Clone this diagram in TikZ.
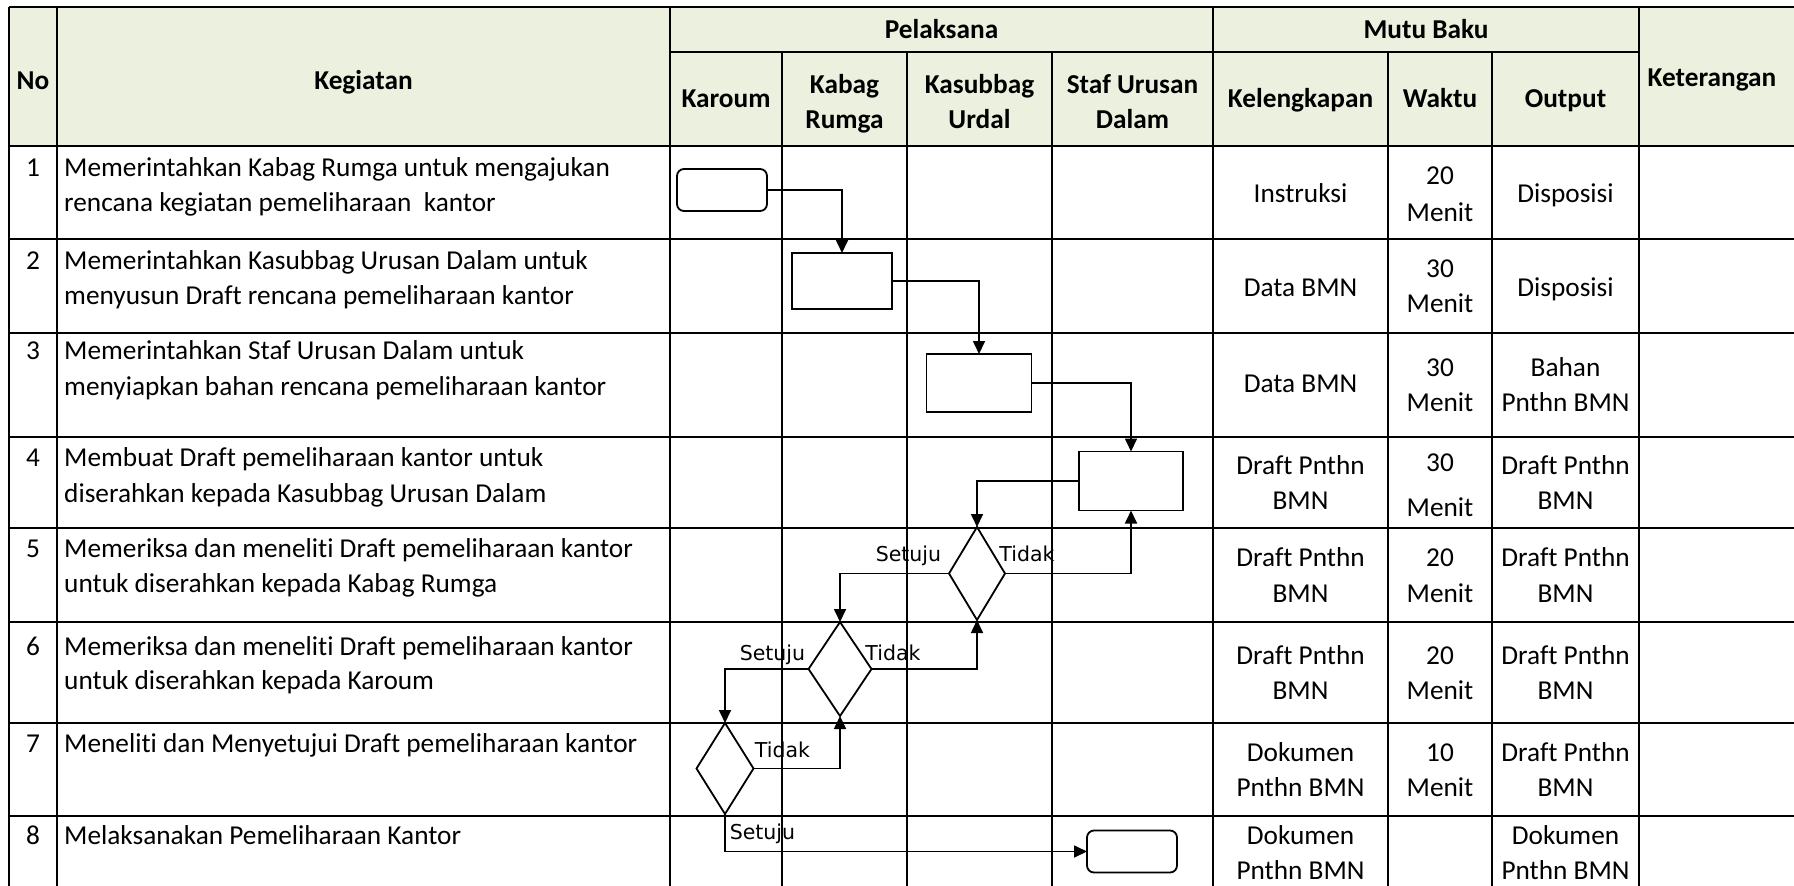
\documentclass[tikz,border=0pt]{standalone}
\usepackage{fontspec}
\setmainfont{Carlito}[Ligatures=NoCommon]
\newfontfamily\lblfont{DejaVu Sans}
\usetikzlibrary{arrows.meta,shapes.geometric}
\definecolor{hdrfill}{HTML}{EBF1DE}
\tikzset{
  gridline/.style={line width=2.8pt},
  body/.style={inner sep=0pt, font=\fontsize{27.3}{35}\selectfont},
  tl/.style={body, anchor=base west},
  tc/.style={body, anchor=base},
  th/.style={inner sep=0pt, anchor=base, font=\fontsize{27.3}{35}\selectfont\bfseries},
  lbl/.style={inner sep=0pt, anchor=base, font=\lblfont\fontsize{20.5}{24}\selectfont},
  proc/.style={draw, rectangle, line width=1.8pt, fill=white, inner sep=0pt, outer sep=0pt},
  term/.style={proc, rounded corners=7pt, minimum width=90pt, minimum height=42pt},
  dec/.style={draw, diamond, line width=1.8pt, fill=white, inner sep=0pt, outer sep=0pt},
  flow/.style={line width=1.7pt, -{Triangle[length=13pt,width=12pt]}},
}
\begin{document}
\begin{tikzpicture}[x=1pt,y=-1pt]
\useasboundingbox (0,0) rectangle (1794,886);
\fill[white] (0,0) rectangle (1794,886);
% header background
\fill[hdrfill] (9,7) rectangle (1794,146);
% grid
\draw[gridline] (9,7) -- (1794,7);
\draw[gridline] (670,52) -- (1639,52);
\foreach \yy in {146,239,333,437,528,622,723,816}
  \draw[gridline] (9,\yy) -- (1794,\yy);
\foreach \xx in {9,57,670,1213,1639}
  \draw[gridline] (\xx,7) -- (\xx,886);
\foreach \xx in {782,907,1052,1388,1492}
  \draw[gridline] (\xx,52) -- (\xx,886);

% header texts
\node[th] (hNo) at (33,89) {No};
\node[th] (hKeg) at (363.5,89) {Kegiatan};
\node[th] (hPel) at (941.5,38) {Pelaksana};
\node[th] (hMutu) at (1426,38) {Mutu Baku};
\node[th] (hKet) at (1712,86) {Keterangan};
\node[th] (hKar) at (726,107) {Karoum};
\node[th] (hKab1) at (844.5,93) {Kabag};
\node[th] (hKab2) at (844.5,128) {Rumga};
\node[th] (hKas1) at (979.5,93) {Kasubbag};
\node[th] (hKas2) at (979.5,128) {Urdal};
\node[th] (hSta1) at (1132.5,93) {Staf Urusan};
\node[th] (hSta2) at (1132.5,128) {Dalam};
\node[th] (hKel) at (1300.5,107) {Kelengkapan};
\node[th] (hWak) at (1440,107) {Waktu};
\node[th] (hOut) at (1565.5,107) {Output};

% numbers
\node[tc] (n1) at (33,176) {1};
\node[tc] (n2) at (33,269) {2};
\node[tc] (n3) at (33,359) {3};
\node[tc] (n4) at (33,466) {4};
\node[tc] (n5) at (33,557) {5};
\node[tc] (n6) at (33,655) {6};
\node[tc] (n7) at (33,752) {7};
\node[tc] (n8) at (33,844) {8};

% kegiatan
\node[tl] (k1a) at (64,176) {Memerintahkan Kabag Rumga untuk mengajukan};
\node[tl] (k1b) at (64,211) {rencana kegiatan pemeliharaan\ \ kantor};
\node[tl] (k2a) at (64,269) {Memerintahkan Kasubbag Urusan Dalam untuk};
\node[tl] (k2b) at (64,304) {menyusun Draft rencana pemeliharaan kantor};
\node[tl] (k3a) at (64,359) {Memerintahkan Staf Urusan Dalam untuk};
\node[tl] (k3b) at (64,395) {menyiapkan bahan rencana pemeliharaan kantor};
\node[tl] (k4a) at (64,466) {Membuat Draft pemeliharaan kantor untuk};
\node[tl] (k4b) at (64,502) {diserahkan kepada Kasubbag Urusan Dalam};
\node[tl] (k5a) at (64,557) {Memeriksa dan meneliti Draft pemeliharaan kantor};
\node[tl] (k5b) at (64,592) {untuk diserahkan kepada Kabag Rumga};
\node[tl] (k6a) at (64,655) {Memeriksa dan meneliti Draft pemeliharaan kantor};
\node[tl] (k6b) at (64,689) {untuk diserahkan kepada Karoum};
\node[tl] (k7a) at (64,752) {Meneliti dan Menyetujui Draft pemeliharaan kantor};
\node[tl] (k8a) at (64,844) {Melaksanakan Pemeliharaan Kantor};

% mutu baku
\node[tc] (c1k) at (1300.5,202) {Instruksi};
\node[tc] (c1w1) at (1440,184) {20};
\node[tc] (c1w2) at (1440,221) {Menit};
\node[tc] (c1o) at (1565.5,202) {Disposisi};

\node[tc] (c2k) at (1300.5,296) {Data BMN};
\node[tc] (c2w1) at (1440,277) {30};
\node[tc] (c2w2) at (1440,312) {Menit};
\node[tc] (c2o) at (1565.5,296) {Disposisi};

\node[tc] (c3k) at (1300.5,392) {Data BMN};
\node[tc] (c3w1) at (1440,376) {30};
\node[tc] (c3w2) at (1440,411) {Menit};
\node[tc] (c3o1) at (1565.5,376) {Bahan};
\node[tc] (c3o2) at (1565.5,411) {Pnthn BMN};

\node[tc] (c4k1) at (1300.5,474) {Draft Pnthn};
\node[tc] (c4k2) at (1300.5,509) {BMN};
\node[tc] (c4w1) at (1440,471) {30};
\node[tc] (c4w2) at (1440,516) {Menit};
\node[tc] (c4o1) at (1565.5,474) {Draft Pnthn};
\node[tc] (c4o2) at (1565.5,509) {BMN};

\node[tc] (c5k1) at (1300.5,566) {Draft Pnthn};
\node[tc] (c5k2) at (1300.5,602) {BMN};
\node[tc] (c5w1) at (1440,566) {20};
\node[tc] (c5w2) at (1440,602) {Menit};
\node[tc] (c5o1) at (1565.5,566) {Draft Pnthn};
\node[tc] (c5o2) at (1565.5,602) {BMN};

\node[tc] (c6k1) at (1300.5,664) {Draft Pnthn};
\node[tc] (c6k2) at (1300.5,699) {BMN};
\node[tc] (c6w1) at (1440,664) {20};
\node[tc] (c6w2) at (1440,699) {Menit};
\node[tc] (c6o1) at (1565.5,664) {Draft Pnthn};
\node[tc] (c6o2) at (1565.5,699) {BMN};

\node[tc] (c7k1) at (1300.5,761) {Dokumen};
\node[tc] (c7k2) at (1300.5,796) {Pnthn BMN};
\node[tc] (c7w1) at (1440,761) {10};
\node[tc] (c7w2) at (1440,796) {Menit};
\node[tc] (c7o1) at (1565.5,761) {Draft Pnthn};
\node[tc] (c7o2) at (1565.5,796) {BMN};

\node[tc] (c8k1) at (1300.5,844) {Dokumen};
\node[tc] (c8k2) at (1300.5,879) {Pnthn BMN};
\node[tc] (c8o1) at (1565.5,844) {Dokumen};
\node[tc] (c8o2) at (1565.5,879) {Pnthn BMN};

% flow shapes
\node[term] (start) at (722,190) {};
\node[proc, minimum width=100pt, minimum height=56pt] (b2) at (842,281) {};
\node[proc, minimum width=105pt, minimum height=58pt] (b3) at (979,383) {};
\node[proc, minimum width=104pt, minimum height=59pt] (b4) at (1131,481) {};
\node[dec, minimum width=56pt, minimum height=93pt] (d1) at (977,573.5) {};
\node[dec, minimum width=63pt, minimum height=94pt] (d2) at (840,669) {};
\node[dec, minimum width=57pt, minimum height=91pt] (d3) at (725,768.5) {};
\node[term] (stop) at (1132,851.5) {};

% connectors
\draw[flow] (start.east) -| (b2.north);
\draw[flow] (b2.east) -| (b3.north);
\draw[flow] (b3.east) -| (b4.north);
\draw[flow] (b4.west) -| (d1.north);
\draw[flow] (d1.east) -| (b4.south);
\draw[flow] (d1.west) -| (d2.north);
\draw[flow] (d2.east) -| (d1.south);
\draw[flow] (d2.west) -| (d3.north);
\draw[flow] (d3.east) -| (d2.south);
\draw[flow] (d3.south) |- (stop.west);

% labels
\node[lbl] (l1s) at (908.5,561) {Setuju};
\node[lbl] (l1t) at (1027,561) {Tidak};
\node[lbl] (l2s) at (772.5,660) {Setuju};
\node[lbl] (l2t) at (893,660) {Tidak};
\node[lbl] (l3t) at (782.5,757) {Tidak};
\node[lbl] (l3s) at (762.5,839) {Setuju};
\end{tikzpicture}
\end{document}
